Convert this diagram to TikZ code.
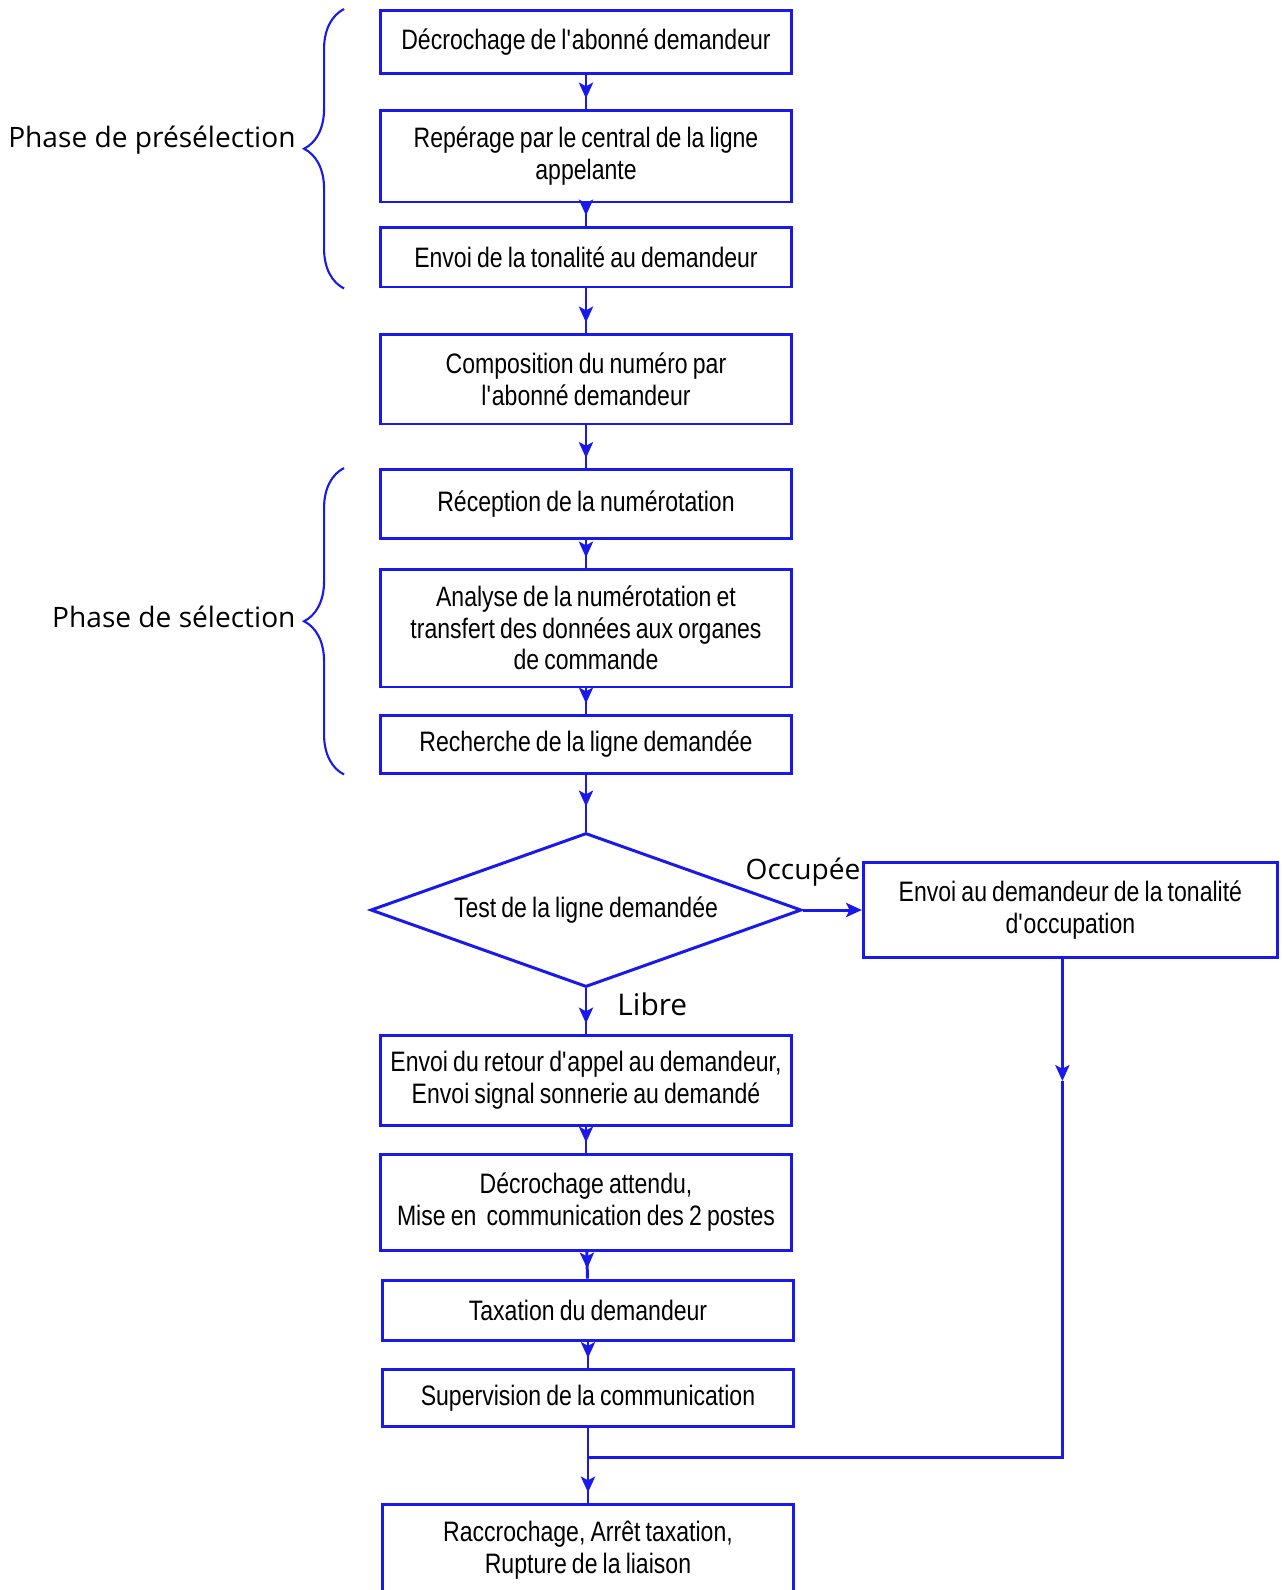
\documentclass[tikz,border=0pt]{standalone}
\usepackage{fontspec}
\setmainfont{Liberation Sans}[FakeStretch=0.82, WordSpace=0.8]
\newfontfamily\handfont{Open Sans}
\usepackage{tikz}
\usetikzlibrary{shapes.geometric,arrows.meta,positioning,
                 decorations.pathreplacing,decorations.markings}
\definecolor{flowblue}{RGB}{25,25,235}
\newcommand{\apos}{\textquotesingle}

\begin{document}
\begin{tikzpicture}[x=0.02cm, y=-0.02cm,
  box/.style={rectangle, draw=flowblue, line width=1.7pt,
              minimum width=8.22cm, minimum height=#1,
              align=center, inner sep=0pt,
              font=\fontsize{16}{18}\selectfont},
  decision/.style={diamond, draw=flowblue, line width=1.7pt, aspect=2.8,
              minimum width=8.62cm, minimum height=3.08cm, inner sep=0pt,
              font=\fontsize{16}{18}\selectfont},
  line/.style={draw=flowblue, line width=1.7pt},
  arrow/.style={line, -{Stealth[length=9pt, width=8pt, inset=2pt]}},
  flow/.style={line, postaction={decorate},
              decoration={markings, mark=at position -#1 with
                {\arrow{Stealth[length=9pt, width=8pt, inset=2pt]}}}},
  flow/.default=0.2cm,
  brace/.style={draw=flowblue, line width=1.2pt, decorate,
              decoration={brace, amplitude=0.8cm}},
  hand/.style={font=\handfont\fontsize{16}{18}\selectfont, inner sep=0pt}
]
  \useasboundingbox (0,0) rectangle (1282,1590);

  % -- preselection --
  \node[box=1.26cm] (decro) at (586,42) {Décrochage de l\apos abonné demandeur};
  \node[box=1.84cm] (rep) at (586,156) {Repérage par le central de la ligne\\appelante};
  \node[box=1.2cm] (env) at (586,257) {Envoi de la tonalité au demandeur};
  \node[box=1.8cm] (compo) at (586,379) {Composition du numéro par\\l\apos abonné demandeur};

  % -- selection --
  \node[box=1.38cm] (recep) at (586,504) {Réception de la numérotation};
  \node[box=2.36cm] (anal) at (586,628) {Analyse de la numérotation et\\transfert des données aux organes\\de commande};
  \node[box=1.16cm] (rech) at (586,744) {Recherche de la ligne demandée};

  % -- test --
  \node[decision] (test) at (586,910) {Test de la ligne demandée};
  \node[box=1.9cm, minimum width=8.28cm, right=1.18cm of test] (occ) {Envoi au demandeur de la tonalité\\d\apos occupation};

  % -- communication --
  \node[box=1.8cm] (retour) at (586,1080) {Envoi du retour d\apos appel au demandeur,\\Envoi signal sonnerie au demandé};
  \node[box=1.92cm] (att) at (586,1202) {Décrochage attendu,\\Mise en \ communication des 2 postes};
  \node[box=1.2cm] (tax) at (588,1310) {Taxation du demandeur};
  \node[box=1.14cm] (sup) at (588,1398) {Supervision de la communication};
  \node[box=1.84cm] (racc) at (588,1550) {Raccrochage, Arrêt taxation,\\Rupture de la liaison};

  % braces
  \draw[brace] ([xshift=-0.7cm]env.south west) -- node[hand, left=0.95cm, yshift=0.18cm] {Phase de présélection} ([xshift=-0.7cm]decro.north west);
  \draw[brace] ([xshift=-0.7cm]rech.south west) -- node[hand, left=0.95cm, yshift=0.08cm] {Phase de sélection} ([xshift=-0.7cm]recep.north west);

  % connectors
  \draw[flow] (decro) -- (rep);
  \draw[flow] (rep) -- (env);
  \draw[flow] (env) -- (compo);
  \draw[flow] (compo) -- (recep);
  \draw[flow] (recep) -- (anal);
  \draw[flow] (anal) -- (rech);
  \draw[flow=0.5cm] (rech) -- (test);
  \draw[arrow] (test.east) -- node[hand, above=0.45cm, pos=0] {Occupée} (occ.west);
  \draw[flow] (test.south) -- node[hand, right=0.6cm, pos=0.35, font=\handfont\fontsize{17}{18}\selectfont] {Libre} (retour);
  \draw[flow] (retour) -- (att);
  \draw[flow] (att) -- (tax);
  \draw[flow] (tax) -- (sup);

  \coordinate (ob) at ([xshift=-0.16cm]occ.south);
  \path (ob) ++(0,122) coordinate (mid);
  \path (sup.south) ++(0,29) coordinate (j);
  \draw[arrow] (ob) -- (mid);
  \draw[line] (mid) |- (j);
  \draw[line] (sup) -- (j);
  \draw[flow] (j) -- (racc);
\end{tikzpicture}
\end{document}
